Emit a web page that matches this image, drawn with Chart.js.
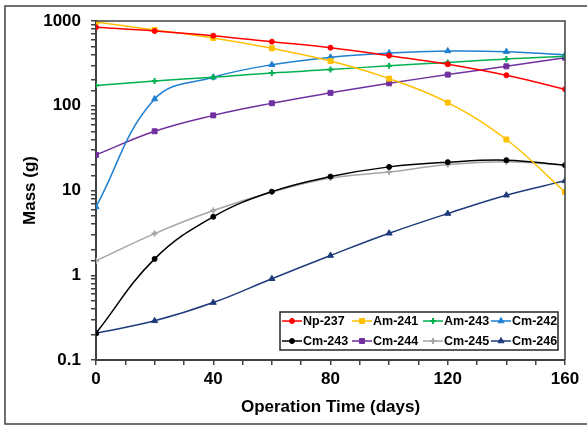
<!DOCTYPE html>
<html>
<head>
<meta charset="utf-8">
<script src="https://cdn.jsdelivr.net/npm/chart.js@4"></script>
<style>
  html, body { margin: 0; padding: 0; background: #fff; }
  #wrap { width: 587px; height: 426px; position: relative; }
</style>
</head>
<body>
<div id="wrap"><canvas id="myChart" width="587" height="426"></canvas></div>
<script>
const dias = [0, 20, 40, 60, 80, 100, 120, 140, 160];
const isotopos = ['Np-237', 'Am-241', 'Am-243', 'Cm-242', 'Cm-243', 'Cm-244', 'Cm-245', 'Cm-246'];

// masa (g) de cada isotopo en cada paso de operacion
const np237 = [843, 762, 671, 570, 484, 390, 309, 229, 157];
const am241 = [973, 783, 631, 476, 337, 209, 109, 40, 9.6];
const am243 = [173, 196, 217, 244, 267, 297, 323, 357, 384];
const cm242 = [6.4, 120, 217, 305, 373, 420, 443, 435, 398];
const cm243 = [0.207, 1.56, 4.9, 9.7, 14.6, 19, 21.6, 22.8, 19.9];
const cm244 = [26.3, 50, 77, 107, 142, 184, 233, 292, 369];
const cm245 = [1.48, 3.1, 5.8, 9.6, 14, 16.5, 20.2, 21.9, 19.9];
const cm246 = [0.207, 0.29, 0.476, 0.91, 1.71, 3.13, 5.35, 8.8, 13];

const masas = [np237, am241, am243, cm242, cm243, cm244, cm245, cm246];
const colores = ['#FF0000', '#FFC000', '#00B050', '#1F7FD0', '#000000', '#7030A0', '#A6A6A6', '#1F3A7A'];
const marcas = ['circle', 'rect', 'cross', 'triangle', 'circle', 'rect', 'cross', 'triangle'];
const tamMarca = [2.5, 3.5, 3, 3.5, 2.5, 3.5, 3, 3.5];

const yTicks = [0.1, 1, 10, 100, 1000];
const xTicks = [0, 40, 80, 120, 160];

const fuente = 'Liberation Sans, Arial, sans-serif';

// marco exterior y bordes superior/derecho del area de trazado
const marco = {
  id: 'marco',
  beforeDraw(chart) {
    const ctx = chart.ctx;
    ctx.save();
    ctx.strokeStyle = '#404040';
    ctx.lineWidth = 1.5;
    ctx.strokeRect(5, 6, 620, 418);
    ctx.restore();
  },
  afterDraw(chart) {
    const ctx = chart.ctx;
    const a = chart.chartArea;
    ctx.save();
    ctx.strokeStyle = '#404040';
    ctx.lineWidth = 1.5;
    ctx.beginPath();
    ctx.moveTo(a.left, a.top);
    ctx.lineTo(a.right, a.top);
    ctx.lineTo(a.right, a.bottom);
    ctx.stroke();
    ctx.restore();
  }
};

// leyenda en dos filas dentro del grafico
const leyenda = {
  id: 'leyenda',
  afterDraw(chart) {
    const ctx = chart.ctx;
    const box = { x: 280, y: 312, w: 278, h: 38 };
    ctx.save();
    ctx.fillStyle = '#fff';
    ctx.fillRect(box.x, box.y, box.w, box.h);
    ctx.strokeStyle = '#262626';
    ctx.lineWidth = 1.5;
    ctx.strokeRect(box.x, box.y, box.w, box.h);
    const cols = [282, 352, 423, 491];
    const filas = [321, 341];
    ctx.font = 'bold 12.5px ' + fuente;
    ctx.textBaseline = 'middle';
    chart.data.datasets.forEach((ds, i) => {
      const x = cols[i % 4];
      const y = filas[Math.floor(i / 4)];
      ctx.strokeStyle = ds.borderColor;
      ctx.fillStyle = ds.borderColor;
      ctx.lineWidth = 1.5;
      ctx.beginPath();
      ctx.moveTo(x, y);
      ctx.lineTo(x + 20, y);
      ctx.stroke();
      ctx.lineWidth = ds.pointBorderWidth;
      Chart.helpers.drawPoint(ctx, {
        pointStyle: ds.pointStyle, radius: ds.pointRadius, borderWidth: ds.pointBorderWidth
      }, x + 10, y);
      ctx.fillStyle = '#000';
      ctx.fillText(ds.label, x + 21, y + 1);
    });
    ctx.restore();
  }
};

function initChart() {
  const ctx = document.getElementById('myChart').getContext('2d');
  const datasets = isotopos.map((nombre, i) => ({
    label: nombre,
    data: dias.map((d, j) => ({ x: d, y: masas[i][j] })),
    borderColor: colores[i],
    backgroundColor: colores[i],
    pointBackgroundColor: colores[i],
    pointBorderColor: colores[i],
    pointStyle: marcas[i],
    pointRadius: tamMarca[i],
    pointBorderWidth: marcas[i] === 'cross' ? 2 : 1,
    borderWidth: 1.5,
    tension: 0.4,
    fill: false
  }));

  new Chart(ctx, {
    type: 'line',
    data: { datasets },
    options: {
      responsive: false,
      animation: false,
      layout: { padding: { left: 0, top: 21, right: 22, bottom: 0 } },
      plugins: {
        legend: { display: false },
        tooltip: { enabled: false }
      },
      scales: {
        x: {
          type: 'linear',
          min: 0,
          max: 160,
          afterFit(scale) { scale.height = 66; },
          grid: { drawOnChartArea: false, drawTicks: true, tickLength: 5, color: '#404040', lineWidth: 1.5 },
          border: { display: true, color: '#404040', width: 2 },
          ticks: {
            stepSize: 10,
            autoSkip: false,
            maxRotation: 0,
            padding: 4,
            color: '#000',
            font: { family: fuente, size: 17, weight: 'bold' },
            callback: v => xTicks.includes(v) ? String(v) : ''
          },
          title: {
            display: true,
            text: 'Operation Time (days)',
            color: '#000',
            font: { family: fuente, size: 17, weight: 'bold' },
            padding: { top: 0, bottom: 8 }
          }
        },
        y: {
          type: 'logarithmic',
          min: 0.1,
          max: 1000,
          afterFit(scale) { scale.width = 96; },
          grid: { drawOnChartArea: false, drawTicks: true, tickLength: 5, color: '#404040', lineWidth: 1.5 },
          border: { display: true, color: '#404040', width: 2 },
          ticks: {
            autoSkip: false,
            padding: 10,
            color: '#000',
            font: { family: fuente, size: 17, weight: 'bold' },
            callback: v => yTicks.some(t => Math.abs(t - v) < 1e-9) ? String(v) : ''
          },
          title: {
            display: true,
            text: 'Mass (g)',
            color: '#000',
            font: { family: fuente, size: 17, weight: 'bold' },
            padding: { top: 20, bottom: 0 }
          }
        }
      }
    },
    plugins: [marco, leyenda]
  });
}

window.onload = initChart;
</script>
</body>
</html>
